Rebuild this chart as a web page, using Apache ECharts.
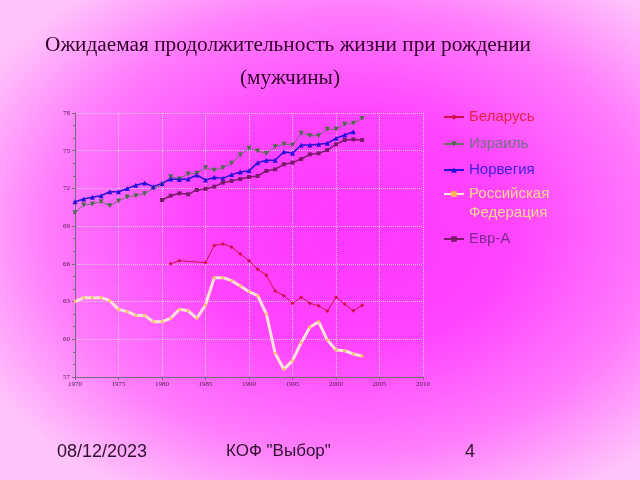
<!DOCTYPE html>
<html>
<head>
<meta charset="utf-8">
<script src="https://cdn.jsdelivr.net/npm/echarts@6/dist/echarts.min.js"></script>
<style>
html,body{margin:0;padding:0;}
#bg{position:absolute;left:0;top:0;width:640px;height:480px;
background:radial-gradient(ellipse 66% 64% at 55% 48%, #ff38ff 0%, #ff44ff 38%, #ff7cfc 72%, #ffc4fa 100%);}
#chart{position:absolute;left:0;top:0;width:640px;height:480px;}
</style>
</head>
<body>
<div id="bg"></div>
<div id="chart"></div>
<script>
const years = [1970,1971,1972,1973,1974,1975,1976,1977,1978,1979,1980,1981,1982,1983,1984,1985,1986,1987,1988,1989,1990,1991,1992,1993,1994,1995,1996,1997,1998,1999,2000,2001,2002,2003];
const belarus = [null,null,null,null,null,null,null,null,null,null,null,66.0,66.25,null,null,66.1,67.47,67.58,67.35,66.78,66.25,65.57,65.09,63.84,63.47,62.86,63.34,62.86,62.67,62.25,63.34,62.81,62.27,62.7];
const israel = [70.07,70.68,70.76,70.94,70.63,71.0,71.32,71.42,71.58,72.0,72.27,72.93,72.75,73.15,73.2,73.65,73.44,73.65,74.0,74.66,75.19,74.98,74.77,75.32,75.51,75.46,76.38,76.2,76.2,76.7,76.7,77.1,77.18,77.57];
const norway = [70.94,71.16,71.3,71.42,71.74,71.74,72.0,72.25,72.43,72.14,72.4,72.75,72.72,72.75,73.07,72.67,72.88,72.8,73.1,73.3,73.4,74.05,74.24,74.24,74.92,74.79,75.46,75.46,75.51,75.59,75.99,76.25,76.51,null];
const russia = [63.0,63.31,63.31,63.31,63.07,62.38,62.2,61.9,61.9,61.4,61.4,61.67,62.38,62.27,61.67,62.73,64.9,64.9,64.66,64.24,63.79,63.47,62.01,58.89,57.61,58.3,59.73,60.95,61.4,59.94,59.15,59.09,58.83,58.67];
const eurA = [null,null,null,null,null,null,null,null,null,null,71.08,71.42,71.61,71.53,71.88,71.96,72.14,72.46,72.6,72.75,72.91,72.99,73.39,73.52,73.92,74.05,74.34,74.71,74.79,75.06,75.51,75.85,75.9,75.85];
const seriesNames = ['Беларусь','Израиль','Норвегия','Российская Федерация','Евр-А'];
const xTicks = [1970,1975,1980,1985,1990,1995,2000,2005,2010];
const yTicks = [57,60,63,66,69,72,75,78];

function pairs(vals){ return years.map((y,i)=>[y, vals[i]]); }

const chart = echarts.init(document.getElementById('chart'), null, {renderer:'canvas'});

const specs = [
  {data: belarus, line:'#d0104a', mark:'#d0104a', sym:'diamond', size:4, w:1, text:'#e8204a', top:107.5, label:'Беларусь'},
  {data: israel, line:'#6e6e6e', mark:'#4a6a4a', sym:'triangle', rot:180, size:5, w:1, text:'#707080', top:134.5, label:'Израиль'},
  {data: norway, line:'#2810d8', mark:'#2810d8', sym:'triangle', size:5, w:1.5, text:'#4020e0', top:160.5, label:'Норвегия'},
  {data: russia, line:'#ffe2d8', mark:'#ffbc50', sym:'rect', size:2.5, w:3, text:'#ffd890', top:165.5, label:'\nРоссийская\nФедерация'},
  {data: eurA, line:'#7a1a6a', mark:'#7a1a6a', sym:'rect', size:4, w:1.5, text:'#802890', top:229.5, label:'Евр-А'}
];

const series = specs.map((s,i)=>({
  name: seriesNames[i],
  type:'line',
  data: pairs(s.data),
  connectNulls: true,
  symbol: s.sym,
  symbolRotate: s.rot || 0,
  symbolSize: s.size,
  showSymbol: true,
  lineStyle:{color:s.line, width:s.w},
  itemStyle:{color:s.mark, borderWidth:0},
  animation:false,
  z: i===3 ? 1 : 2
}));

const legends = specs.map((s,i)=>({
  data:[{name: seriesNames[i], textStyle:{color:s.text}}],
  left: 443,
  top: s.top,
  padding: 0,
  orient:'vertical',
  itemWidth: 20,
  itemHeight: 7,
  formatter: () => s.label,
  textStyle:{fontFamily:'Liberation Sans, Arial, sans-serif', fontSize:15, color:s.text, lineHeight:19},
  selectedMode:false
}));

chart.setOption({
  animation:false,
  backgroundColor:'transparent',
  title:[
    {text:'Ожидаемая продолжительность жизни при рождении', left:283, top:30, textAlign:'center',
     textStyle:{fontFamily:'Liberation Serif, Times New Roman, serif', fontSize:21.3, fontWeight:'normal', color:'#300028'}},
    {text:'(мужчины)', left:285, top:63, textAlign:'center',
     textStyle:{fontFamily:'Liberation Serif, Times New Roman, serif', fontSize:21.3, fontWeight:'normal', color:'#300028'}}
  ],
  legend: legends,
  grid:{left:75, right:217, top:113, bottom:103, containLabel:false},
  xAxis:{
    type:'value', min:xTicks[0], max:xTicks[xTicks.length-1], interval:5,
    axisLine:{show:true, lineStyle:{color:'#7a6a7a', width:1}},
    axisTick:{show:true, length:3, lineStyle:{color:'#7a6a7a'}},
    axisLabel:{fontFamily:'Liberation Serif, serif', fontSize:7, color:'#502050', margin:4, formatter: v => String(v)},
    splitLine:{show:true, lineStyle:{color:'#d8c8d8', type:'dotted', width:1}}
  },
  yAxis:{
    type:'value', min:yTicks[0], max:yTicks[yTicks.length-1], interval:3,
    axisLine:{show:true, lineStyle:{color:'#7a6a7a', width:1}},
    axisTick:{show:true, length:3, lineStyle:{color:'#7a6a7a'}},
    minorTick:{show:true, splitNumber:3, length:2, lineStyle:{color:'#7a6a7a'}},
    axisLabel:{fontFamily:'Liberation Serif, serif', fontSize:7, color:'#502050', margin:5, formatter: v => String(v)},
    splitLine:{show:true, lineStyle:{color:'#d8c8d8', type:'dotted', width:1}}
  },
  series: series,
  graphic:[
    {type:'text', left:57, top:443, style:{text:'08/12/2023', font:'18px "Liberation Sans", Arial, sans-serif', fill:'#301030'}},
    {type:'text', left:226, top:443, style:{text:'КОФ "Выбор"', font:'17px "Liberation Sans", Arial, sans-serif', fill:'#301030'}},
    {type:'text', left:465, top:443, style:{text:'4', font:'18px "Liberation Sans", Arial, sans-serif', fill:'#301030'}}
  ]
});
</script>
</body>
</html>
